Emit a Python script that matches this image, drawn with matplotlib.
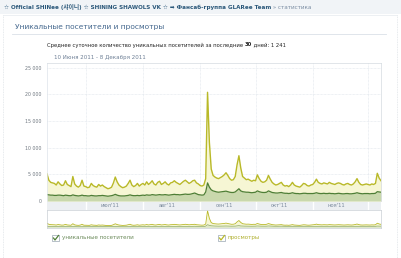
import pandas as pd
import matplotlib
matplotlib.use("Agg")
import matplotlib.pyplot as plt
import matplotlib.dates as mdates
from matplotlib.patches import Rectangle
from matplotlib.lines import Line2D

plt.rcParams['font.family'] = ['DejaVu Sans', 'Noto Sans CJK KR']

W, H = 402, 258

# daily data, 10 June 2011 - 8 December 2011
start_date = "2011-06-10"
end_date = "2011-12-08"

views = [
    # june
    5100, 3900, 3500, 3400, 3300, 3000, 3600, 3200, 2900, 3000,
    3800, 3100, 2900, 2700, 4600, 3200, 2800, 2600, 2900, 3900, 2800,
    # july
    2700, 2500, 2600, 3300, 2900, 2700, 2600, 3100, 2800, 3000,
    2700, 2500, 2300, 2400, 2600, 3400, 4500, 3600, 3000, 2700,
    2500, 2600, 2800, 3300, 3900, 3000, 2700, 2900, 3300, 2800, 3100,
    # august
    3300, 3000, 3600, 3100, 3400, 3800, 3200, 3000, 3500, 3700,
    3100, 3300, 3600, 3200, 3000, 3400, 3500, 3800, 3500, 3300,
    3100, 3400, 3700, 3900, 3600, 3300, 3500, 3800, 3900, 3400, 3200,
    # september
    2900, 2800, 3000, 4200, 20400, 11000, 6000, 4800, 4500, 4300,
    4200, 4400, 4600, 4900, 5300, 4800, 4200, 3900, 4000, 4600,
    6800, 8500, 6200, 4600, 4300, 4000, 4100, 3900, 3700, 3900,
    # october
    3800, 4900, 4200, 3700, 3500, 3600, 3900, 4800, 4100, 3500,
    3200, 3000, 3100, 3300, 3500, 3000, 2800, 2900, 2700, 3000,
    3500, 3000, 2800, 2700, 2600, 2900, 3300, 3200, 2900, 2800, 3000,
    # november
    3100, 3500, 4100, 3500, 3300, 3200, 3400, 3300, 3200, 3500,
    3300, 3200, 3100, 3300, 3400, 3300, 3100, 3000, 3200, 3300,
    3100, 3000, 3200, 3600, 4200, 3500, 3100, 3000, 3100, 3200,
    # december
    3100, 3000, 3200, 3100, 3300, 5200, 4300, 3800,
]

visitors = [
    # june
    1200, 1150, 1100, 1100, 1050, 1050, 1100, 1100, 1050, 1000,
    1100, 1050, 1000, 1000, 1150, 1050, 1000, 950, 1000, 1100, 1000,
    # july
    1000, 950, 950, 1050, 1000, 950, 950, 1000, 1000, 1050,
    1000, 950, 900, 950, 1000, 1100, 1250, 1100, 1000, 950,
    950, 950, 1000, 1050, 1150, 1050, 1000, 1000, 1050, 1000, 1050,
    # august
    1100, 1050, 1150, 1100, 1100, 1200, 1150, 1100, 1150, 1200,
    1150, 1150, 1200, 1150, 1100, 1150, 1200, 1250, 1200, 1200,
    1150, 1200, 1250, 1300, 1250, 1250, 1300, 1400, 1500, 1350, 1200,
    # september
    1150, 1100, 1150, 1700, 3400, 2600, 2100, 1900, 1800, 1700,
    1650, 1700, 1750, 1800, 1850, 1750, 1650, 1600, 1600, 1700,
    2000, 2300, 1900, 1750, 1700, 1650, 1650, 1600, 1550, 1600,
    # october
    1650, 1900, 1750, 1650, 1600, 1600, 1650, 1900, 1750, 1600,
    1550, 1500, 1500, 1550, 1600, 1500, 1450, 1450, 1400, 1450,
    1550, 1450, 1400, 1400, 1350, 1400, 1450, 1450, 1400, 1400, 1400,
    # november
    1400, 1450, 1550, 1450, 1400, 1400, 1450, 1400, 1400, 1450,
    1400, 1400, 1350, 1400, 1450, 1400, 1350, 1350, 1400, 1400,
    1350, 1350, 1400, 1450, 1550, 1450, 1400, 1350, 1400, 1400,
    # december
    1400, 1350, 1400, 1400, 1450, 1750, 1700, 1650,
]

y_ticks = [0, 5000, 10000, 15000, 20000, 25000]
y_tick_labels = ["0", "5 000", "10 000", "15 000", "20 000", "25 000"]
month_labels = ["июл'11", "авг'11", "сен'11", "окт'11", "ноя'11"]

header_main = "☆ Official SHINee (샤이니) ☆ SHINING SHAWOLS VK ☆ ➡ Фансаб-группа GLARee Team"
header_tail = " » статистика"
title = "Уникальные посетители и просмотры"
subtitle_a = "Среднее суточное количество уникальных посетителей за последние "
subtitle_b = "30"
subtitle_c = " дней: 1 241"
date_range = "10 Июня 2011 - 8 Декабря 2011"
legend_names = ["уникальные посетители", "просмотры"]

VIEW_LINE = "#b9b928"
VIEW_FILL = "#f6f6d4"
VIS_LINE = "#4e7e36"
VIS_FILL = "#c9d8ac"
GRID = "#dde3ea"
BLUE = "#45688e"

dates = pd.date_range(start_date, end_date, freq="D")


def px_axes(fig, x0, y0, x1, y1):
    return fig.add_axes([x0 / W, 1 - y1 / H, (x1 - x0) / W, (y1 - y0) / H])


def fx(x):
    return x / W


def fy(y):
    return 1 - y / H


def text_after(fig, prev, s, **kw):
    # place a text right after another one on the same baseline
    r = fig.canvas.get_renderer()
    bb = prev.get_window_extent(r)
    x = bb.x1 / fig.bbox.width
    y = prev.get_position()[1]
    return fig.text(x, y, s, va=prev.get_va(), ha="left", **kw)


fig = plt.figure(figsize=(W / 100, H / 100), dpi=100)
fig.patch.set_facecolor("white")

# header bar and page frame
fig.add_artist(Rectangle((0, fy(14)), 1, 14 / H, transform=fig.transFigure,
                         facecolor="#f1f4f7", edgecolor="none", zorder=-5))
for xx in (3, 397):
    fig.add_artist(Line2D([fx(xx), fx(xx)], [fy(15), 0], transform=fig.transFigure,
                          color="#dfe3e8", lw=0.6, ls=(0, (1, 1))))
fig.add_artist(Line2D([fx(3), fx(397)], [fy(15), fy(15)], transform=fig.transFigure,
                      color="#e6eaee", lw=0.5))

t = fig.text(fx(4), fy(7.5), header_main, fontsize=4.1, fontweight="bold",
             color="#2b587a", va="center", ha="left")
text_after(fig, t, header_tail, fontsize=4.1, color="#7b8da3")

fig.text(fx(15), fy(27), title, fontsize=5.4, color=BLUE, va="center", ha="left")
fig.add_artist(Line2D([fx(12), fx(386)], [fy(33.5), fy(33.5)], transform=fig.transFigure,
                      color="#dae1e8", lw=0.6))

s1 = fig.text(fx(47), fy(45), subtitle_a, fontsize=3.75, color="#222222",
              va="center", ha="left")
s2 = text_after(fig, s1, subtitle_b, fontsize=3.75, color="#222222", fontweight="bold")
text_after(fig, s2, subtitle_c, fontsize=3.75, color="#222222")

fig.text(fx(54), fy(58), date_range, fontsize=4.0, color="#6d7f95",
         va="center", ha="left")

# main chart
ax = px_axes(fig, 47, 63, 381, 201)
ax.fill_between(dates, views, color=VIEW_FILL, lw=0)
ax.fill_between(dates, visitors, color=VIS_FILL, lw=0)
ax.plot(dates, views, color=VIEW_LINE, lw=1.0)
ax.plot(dates, visitors, color=VIS_LINE, lw=0.9)
ax.set_xlim(dates[0], dates[-1])
ax.set_ylim(0, 25900)
ax.set_yticks(y_ticks)
ax.set_yticklabels(y_tick_labels)
ax.tick_params(axis="y", length=0, pad=4, labelsize=3.4, labelcolor="#6f7780")
ax.xaxis.set_major_locator(mdates.MonthLocator())
ax.tick_params(axis="x", length=0, labelbottom=False)
ax.grid(True, color=GRID, lw=0.5, ls=(0, (1, 1)))
ax.set_axisbelow(True)
for side in ("top", "right"):
    ax.spines[side].set_color("#d4dae0")
    ax.spines[side].set_linewidth(0.5)
ax.spines["top"].set_linestyle((0, (1, 1)))
ax.spines["left"].set_color("#dde3ea")
ax.spines["left"].set_linewidth(0.5)
ax.spines["left"].set_linestyle((0, (1, 1)))
ax.spines["bottom"].set_visible(False)

# month band
band = px_axes(fig, 47, 202, 381, 209.5)
band.set_facecolor("#eceff2")
band.set_xlim(dates[0], dates[-1])
band.set_ylim(0, 1)
month_starts = pd.date_range(dates[0], dates[-1], freq="MS")
for d in month_starts:
    band.axvline(d, color="white", lw=1.0)
for d, lab in zip(month_starts[:len(month_labels)], month_labels):
    band.text(d + pd.Timedelta(days=13), 0.5, lab, fontsize=3.7, color="#7a8a9c",
              ha="center", va="center")
band.set_xticks([])
band.set_yticks([])
for sp in band.spines.values():
    sp.set_visible(False)

# navigator
nav = px_axes(fig, 47, 210, 381, 227.5)
nav.fill_between(dates, views, color=VIEW_FILL, lw=0)
nav.fill_between(dates, visitors, color="#dfe7c8", lw=0)
nav.plot(dates, views, color=VIEW_LINE, lw=0.6)
nav.plot(dates, visitors, color="#8aa86a", lw=0.5)
nav.set_xlim(dates[0], dates[-1])
nav.set_ylim(0, 21300)
nav.set_xticks([])
nav.set_yticks([])
for sp in nav.spines.values():
    sp.set_color("#c9cfd5")
    sp.set_linewidth(0.5)

# legend with checkboxes
for x0, name, col, check_col in ((52, legend_names[0], "#6b8a5a", VIS_LINE),
                                 (218, legend_names[1], "#b0b030", VIEW_LINE)):
    fig.add_artist(Rectangle((fx(x0), fy(241)), 7 / W, 6 / H, transform=fig.transFigure,
                             facecolor="white", edgecolor="#9aa6b2", lw=0.5))
    fig.add_artist(Line2D([fx(x0 + 1.5), fx(x0 + 3), fx(x0 + 6.5)],
                          [fy(238), fy(240), fy(235.5)], transform=fig.transFigure,
                          color=check_col, lw=0.9))
    fig.text(fx(x0 + 10), fy(238), name, fontsize=4.1, color=col,
             va="center", ha="left")

fig.savefig("out.png", dpi=100)
